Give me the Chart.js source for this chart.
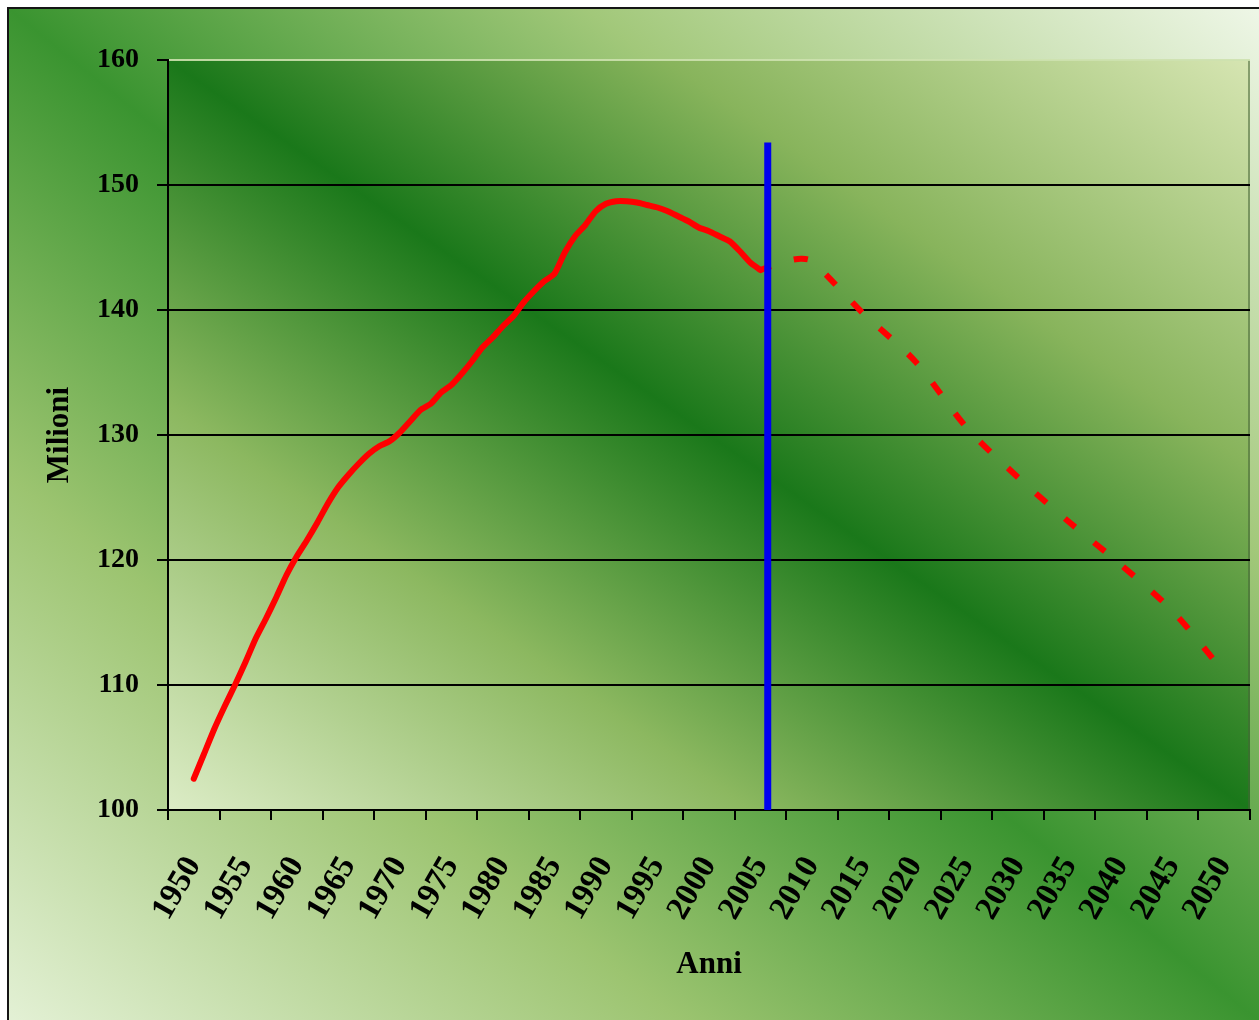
<!DOCTYPE html>
<html>
<head>
<meta charset="utf-8">
<title>Popolazione</title>
<script src="https://cdn.jsdelivr.net/npm/chart.js@4.4.1/dist/chart.umd.min.js"></script>
<style>
  html, body { margin: 0; padding: 0; background: #ffffff; }
  #wrap { width: 1259px; height: 1020px; }
</style>
</head>
<body>
<div id="wrap"><canvas id="c" width="1259" height="1020"></canvas></div>
<script>
// Category labels shown under the x axis
const yearLabels = ['1950','1955','1960','1965','1970','1975','1980','1985','1990','1995','2000',
                    '2005','2010','2015','2020','2025','2030','2035','2040','2045','2050'];

// Observed population (millions), yearly
const histYears = [1950,1951,1952,1953,1954,1955,1956,1957,1958,1959,
                   1960,1961,1962,1963,1964,1965,1966,1967,1968,1969,
                   1970,1971,1972,1973,1974,1975,1976,1977,1978,1979,
                   1980,1981,1982,1983,1984,1985,1986,1987,1988,1989,
                   1990,1991,1992,1993,1994,1995,1996,1997,1998,1999,
                   2000,2001,2002,2003,2004,2005];
const histValues = [102.5,104.5,106.5,108.3,110.0,111.8,113.7,115.3,117.0,118.8,
                    120.3,121.6,123.0,124.5,125.8,126.8,127.7,128.5,129.1,129.5,
                    130.2,131.1,132.0,132.5,133.4,134.0,134.9,135.9,137.0,137.8,
                    138.7,139.5,140.6,141.5,142.3,142.9,144.6,145.9,146.8,147.9,
                    148.5,148.7,148.7,148.6,148.4,148.2,147.9,147.5,147.1,146.6,
                    146.3,145.9,145.5,144.7,143.8,143.2];

// Projection (millions)
const projYears  = [2005, 2007, 2008, 2009, 2010, 2015, 2020, 2025, 2030, 2035, 2040, 2045, 2050];
const projValues = [143.2, 143.8, 144.0, 144.1, 143.9, 139.7, 135.9, 130.6, 126.6, 123.0, 119.6, 115.9, 111.0];

// Vertical marker separating data from projection
const markerYear = 2005.7;
const markerValues = [100, 153.4];

// Value axis ticks
const yTicks = [100, 110, 120, 130, 140, 150, 160];

const toPoints = (xs, ys) => xs.map((x, i) => ({ x: x, y: ys[i] }));

const serif = 'Liberation Serif, Times New Roman, serif';

// Diagonal band: pale corners (bottom-left / top-right), dark along the main diagonal
function paintBand(ctx, x, y, w, h, stops) {
  const cx = x + w / 2, cy = y + h / 2;
  const d = Math.hypot(w, h);
  const nx = h / d, ny = -w / d;
  const L = w * h / d;
  const g = ctx.createLinearGradient(cx - nx * L, cy - ny * L, cx + nx * L, cy + ny * L);
  stops.forEach(s => g.addColorStop(s[0], s[1]));
  ctx.fillStyle = g;
  ctx.fillRect(x, y, w, h);
}

const backdrop = {
  id: 'backdrop',
  beforeDraw(chart) {
    const { ctx, chartArea: a, width, height } = chart;
    ctx.save();
    ctx.fillStyle = '#ffffff';
    ctx.fillRect(0, 0, width, height);
    paintBand(ctx, 8, 8, width + 6 - 8, height + 6 - 8,
      [[0, '#e4f1d6'], [0.27, '#9cc470'], [0.5, '#3a9430'], [0.73, '#a2c87a'], [1, '#eff7e8']]);
    ctx.strokeStyle = '#151515';
    ctx.lineWidth = 2;
    ctx.strokeRect(8, 8, width + 10, height + 10);
    paintBand(ctx, a.left, a.top, a.right - a.left, a.bottom - a.top,
      [[0, '#dcecc6'], [0.27, '#8cb860'], [0.5, '#1a781a'], [0.73, '#88b45c'], [1, '#d6e5b2']]);
    // soft right edge of the plot area
    ctx.strokeStyle = 'rgba(70,100,55,0.55)';
    ctx.lineWidth = 2;
    ctx.beginPath();
    ctx.moveTo(a.right - 1, a.top);
    ctx.lineTo(a.right - 1, a.bottom);
    ctx.stroke();
    ctx.restore();
  }
};

new Chart(document.getElementById('c'), {
  type: 'line',
  data: {
    labels: yearLabels,
    datasets: [
      {
        label: 'marker',
        data: toPoints([markerYear, markerYear], markerValues),
        xAxisID: 'xd', yAxisID: 'y',
        borderColor: '#0000f0',
        borderWidth: 7,
        pointRadius: 0,
        tension: 0
      },
      {
        label: 'Popolazione',
        data: toPoints(histYears, histValues),
        xAxisID: 'xd', yAxisID: 'y',
        borderColor: '#ff0000',
        borderWidth: 6,
        pointRadius: 0,
        tension: 0.2,
        borderJoinStyle: 'round',
        borderCapStyle: 'round'
      },
      {
        label: 'Proiezione',
        data: toPoints(projYears, projValues),
        xAxisID: 'xd', yAxisID: 'y',
        borderColor: '#ff0000',
        borderWidth: 6,
        borderDash: [14, 24],
        borderDashOffset: 3,
        pointRadius: 0,
        tension: 0.3
      }
    ]
  },
  options: {
    responsive: false,
    animation: false,
    devicePixelRatio: 1,
    layout: { padding: { top: 60, right: 9, left: 0, bottom: 0 } },
    plugins: {
      legend: { display: false },
      tooltip: { enabled: false }
    },
    scales: {
      x: {
        type: 'category',
        position: 'bottom',
        offset: true,
        grid: {
          offset: true,
          drawOnChartArea: false,
          drawTicks: true,
          tickLength: 10,
          color: '#000',
          lineWidth: 2
        },
        border: { color: '#000', width: 2 },
        ticks: {
          autoSkip: false,
          maxRotation: 60,
          minRotation: 60,
          padding: 30,
          color: '#000',
          font: { family: serif, weight: 'bold', size: 33 }
        },
        title: {
          display: true,
          text: 'Anni',
          color: '#000',
          font: { family: serif, weight: 'bold', size: 31 },
          padding: { top: 0, bottom: 36 }
        },
        afterFit(s) {
          s.height = 210;
          s.paddingLeft = 0;
          s.paddingRight = 0;
        }
      },
      xd: {
        type: 'linear',
        display: false,
        min: 1947.5,
        max: 2052.5
      },
      y: {
        type: 'linear',
        position: 'left',
        min: 100,
        max: 160,
        afterBuildTicks(s) { s.ticks = yTicks.map(v => ({ value: v })); },
        grid: {
          color: c => (c.tick && c.tick.value === 160) ? 'rgba(205,225,175,0.9)' : '#000',
          tickColor: '#000',
          lineWidth: 2,
          tickLength: 11
        },
        border: { color: '#000', width: 2 },
        ticks: {
          padding: 18,
          color: '#000',
          font: { family: serif, weight: 'bold', size: 28 }
        },
        title: {
          display: true,
          text: 'Milioni',
          color: '#000',
          font: { family: serif, weight: 'bold', size: 31 },
          padding: { top: 41, bottom: 0 }
        },
        afterFit(s) {
          s.width = 168;
          s.paddingTop = 0;
          s.paddingBottom = 0;
        }
      }
    }
  },
  plugins: [backdrop]
});
</script>
</body>
</html>
